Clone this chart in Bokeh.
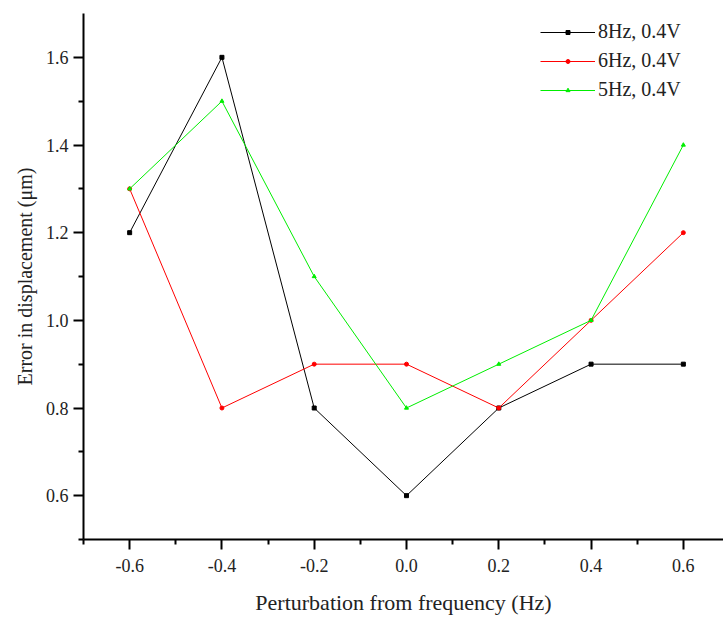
from bokeh.plotting import figure
from bokeh.models import FixedTicker, Range1d, Legend, LegendItem, Title
from bokeh.embed import file_html
from bokeh.resources import INLINE

x = [-0.6, -0.4, -0.2, 0.0, 0.2, 0.4, 0.6]
s8 = [1.2, 1.6, 0.8, 0.6, 0.8, 0.9, 0.9]
s6 = [1.3, 0.8, 0.9, 0.9, 0.8, 1.0, 1.2]
s5 = [1.3, 1.5, 1.1, 0.8, 0.9, 1.0, 1.4]
names = ["8Hz, 0.4V", "6Hz, 0.4V", "5Hz, 0.4V"]
x_ticks = [-0.6, -0.4, -0.2, 0.0, 0.2, 0.4, 0.6]
x_minor = [-0.7, -0.5, -0.3, -0.1, 0.1, 0.3, 0.5]
y_ticks = [0.6, 0.8, 1.0, 1.2, 1.4, 1.6]
y_minor = [0.5, 0.7, 0.9, 1.1, 1.3, 1.5]

FONT = "Liberation Serif"

p = figure(width=723, height=617, output_backend="svg", toolbar_location=None,
           x_range=Range1d(-0.7, 0.687), y_range=Range1d(0.5, 1.7),
           min_border_left=83, min_border_top=13, min_border_right=0, min_border_bottom=77)
p.outline_line_color = None
p.xgrid.visible = False
p.ygrid.visible = False

series = [(s8, "black", "square"), (s6, "#ff0000", "circle"), (s5, "#00ee00", "triangle")]
items = []
for (ys, col, mk), nm in zip(series, names):
    l = p.line(x, ys, line_color=col, line_width=1)
    s = p.scatter(x, ys, marker=mk, size=4, fill_color=col, line_color=col)
    items.append(LegendItem(label=nm, renderers=[l, s]))

leg = Legend(items=items, border_line_color=None,
             background_fill_alpha=0, label_text_font=FONT, label_text_font_size="20px",
             label_text_color="#222222",
             glyph_width=55, glyph_height=10, label_height=20, spacing=6,
             label_standoff=3, padding=0, margin=0)
p.add_layout(leg)
leg.location = (457, 438)

for ax, maj, mn in ((p.xaxis[0], x_ticks, x_minor), (p.yaxis[0], y_ticks, y_minor)):
    ax.ticker = FixedTicker(ticks=maj, minor_ticks=mn)
    ax.major_label_overrides = {v: f"{v:.1f}" for v in maj}
    ax.axis_line_width = 2
    ax.major_tick_line_width = 2
    ax.minor_tick_line_width = 2
    ax.major_tick_out = 10
    ax.major_tick_in = 0
    ax.minor_tick_out = 5
    ax.minor_tick_in = 0
    ax.major_label_text_font = FONT
    ax.major_label_text_font_size = "18px"
    ax.major_label_text_color = "#222222"
    ax.axis_label_text_font = FONT
    ax.axis_label_text_font_size = "22px"
    ax.axis_label_text_font_style = "normal"
    ax.axis_label_text_color = "#222222"

p.xaxis[0].axis_label = "Perturbation from frequency (Hz)"
p.xaxis[0].major_label_standoff = 9
p.xaxis[0].axis_label_standoff = 15
p.yaxis[0].major_label_standoff = 5

ytitle = Title(text="Error in displacement (\u03bcm)", align="center", offset=-16,
               text_font=FONT, text_font_size="20px", text_font_style="normal",
               text_color="#222222", standoff=14)
p.add_layout(ytitle, "left")

open("out.html", "w").write(file_html(p, INLINE))
